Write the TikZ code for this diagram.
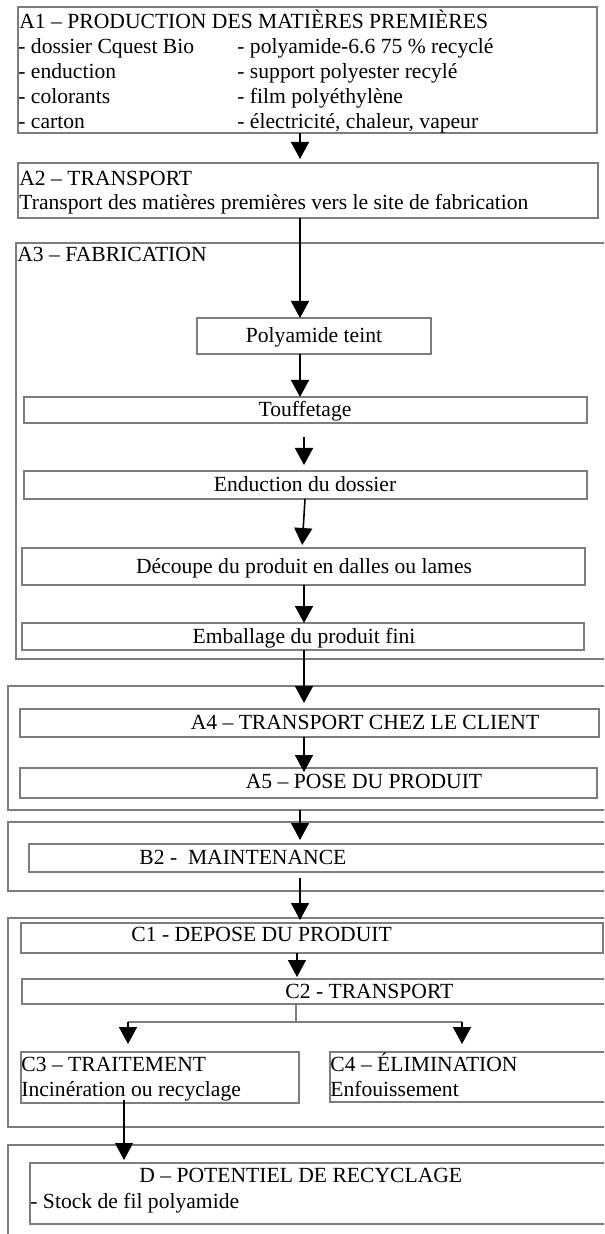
\documentclass[tikz,border=0pt]{standalone}
\usepackage{fontspec}
\setmainfont{Liberation Serif}
\usetikzlibrary{arrows.meta,fit}
\definecolor{grisbord}{RGB}{125,125,125}
\tikzset{>={Triangle[length=8.5pt,width=9pt]}}
\tikzset{cadre/.style={draw=grisbord, line width=0.7pt, inner sep=0pt, outer sep=0pt},
	txt/.style={anchor=west, inner sep=0pt, text height=7.4pt, text depth=2.2pt},
	ctxt/.style={inner sep=0pt, text height=7.4pt, text depth=2.2pt},
	fleche/.style={->, line width=0.8pt, black},
	trait/.style={draw=grisbord, line width=0.6pt}}

\begin{document}
\begin{tikzpicture}[x=0.5pt, y=-0.5pt, font=\fontsize{10.8}{13}\selectfont]
	\useasboundingbox (0,0) rectangle (604,1234);
	\clip (0,0) rectangle (604,1234);
	\coordinate (axe) at (300,0);
	\coordinate (axeb) at (304,0);
	\coordinate (flgauche) at (128,0);
	\coordinate (fldroite) at (462,0);
	\coordinate (flrecyc) at (124,0);
	
	% A1
	\node[cadre, fit={(18,7) (597,133)}] (a1) {};
	\node[txt] (a1titre) at (19,23) {A1 – PRODUCTION DES MATIÈRES PREMIÈRES};
	\node[txt] (a1g1) at (18,48) {- dossier Cquest Bio};
	\node[txt] (a1g2) at (18,73) {- enduction};
	\node[txt] (a1g3) at (18,98) {- colorants};
	\node[txt] (a1g4) at (18,123) {- carton};
	\node[txt] (a1d1) at (237,48) {- polyamide-6.6 75 \% recyclé};
	\node[txt] (a1d2) at (237,73) {- support polyester recylé};
	\node[txt] (a1d3) at (237,98) {- film polyéthylène};
	\node[txt] (a1d4) at (237,123) {- électricité, chaleur, vapeur};
	
	% A2
	\node[cadre, fit={(18,163) (598,218)}] (a2) {};
	\node[txt] (a2titre) at (19,180) {A2 – TRANSPORT};
	\node[txt] (a2texte) at (19,204) {Transport des matières premières vers le site de fabrication};
	
	% A3 - fabrication
	\node[cadre, fit={(16,243) (620,659)}] (a3) {};
	\node[txt] (a3titre) at (17,256) {A3 – FABRICATION};
	\node[cadre, fit={(197,318) (431,354)}] (poly) {};
	\node[ctxt] (polytexte) at (314,337) {Polyamide teint};
	\node[cadre, fit={(24,397) (587,423)}] (touf) {};
	\node[ctxt] (touftexte) at (305,411) {Touffetage};
	\node[cadre, fit={(24,471) (587,499)}] (endu) {};
	\node[ctxt] (endutexte) at (305,486) {Enduction du dossier};
	\node[cadre, fit={(22,548) (585,585)}] (decoupe) {};
	\node[ctxt] (decoupetexte) at (304,568) {Découpe du produit en dalles ou lames};
	\node[cadre, fit={(22,623) (584,650)}] (emb) {};
	\node[ctxt] (embtexte) at (304,638) {Emballage du produit fini};
	
	% A4 - A5
	\node[cadre, fit={(8,686) (620,810)}] (grpa) {};
	\node[cadre, fit={(20,709) (599,737)}] (a4) {};
	\node[ctxt] (a4texte) at (365,724) {A4 – TRANSPORT CHEZ LE CLIENT};
	\node[cadre, fit={(20,768) (597,798)}] (a5) {};
	\node[ctxt] (a5texte) at (364,783) {A5 – POSE DU PRODUIT};
	
	% B2
	\node[cadre, fit={(8,822) (620,891)}] (grpb) {};
	\node[cadre, fit={(29,844) (620,872)}] (b2) {};
	\node[txt] (b2texte) at (139,859) {B2 -\ \ MAINTENANCE};
	
	% C1 - C4
	\node[cadre, fit={(8,918) (620,1127)}] (grpc) {};
	\node[cadre, fit={(21,923) (603,953)}] (c1) {};
	\node[txt] (c1texte) at (131,936) {C1 - DEPOSE DU PRODUIT};
	\node[cadre, fit={(22,979) (620,1004)}] (c2) {};
	\node[txt] (c2texte) at (285,993) {C2 - TRANSPORT};
	\node[cadre, fit={(21,1052) (299,1103)}] (c3) {};
	\node[txt] (c3titre) at (21,1066) {C3 – TRAITEMENT};
	\node[txt] (c3texte) at (21,1091) {Incinération ou recyclage};
	\node[cadre, fit={(330,1052) (620,1102)}] (c4) {};
	\node[txt] (c4titre) at (330,1066) {C4 – ÉLIMINATION};
	\node[txt] (c4texte) at (330,1091) {Enfouissement};
	
	% D
	\node[cadre, fit={(8,1145) (620,1250)}] (grpd) {};
	\node[cadre, fit={(30,1163) (620,1224)}] (d) {};
	\node[txt] (dtitre) at (139,1177) {D – POTENTIEL DE RECYCLAGE};
	\node[txt] (dtexte) at (30,1203) {- Stock de fil polyamide};
	
	% fleches
	\draw[fleche, shorten >=2pt] (a1.south -| axe) -- (a2.north -| axe);
	\draw[fleche] (a2.south -| axe) -- (poly.north -| axe);
	\draw[fleche] (poly.south -| axe) -- (touf.north -| axe);
	\draw[fleche, shorten <=7pt, shorten >=3pt] (touf.south -| axeb) -- (endu.north -| axeb);
	\draw[fleche, shorten >=1.5pt] ([xshift=0.5pt]endu.south -| axeb) -- ([xshift=-1pt]decoupe.north -| axeb);
	\draw[fleche] (decoupe.south -| axeb) -- (emb.north -| axeb);
	\draw[fleche, shorten >=3pt] (emb.south -| axeb) -- (a4.north -| axeb);
	\draw[fleche, shorten >=-2pt] (a4.south -| axeb) -- (a5.north -| axeb);
	\draw[fleche, shorten >=2pt] (grpa.south -| axe) -- (b2.north -| axe);
	\draw[fleche, shorten <=3pt, shorten >=1.5pt] (b2.south -| axe) -- (c1.north -| axe);
	\draw[fleche, shorten >=1pt] ([xshift=-1.5pt]c1.south -| axe) -- ([xshift=-1.5pt]c2.north -| axe);
	\draw[trait] ([xshift=-2pt]c2.south -| axe) -- ++(0,18) coordinate (bif);
	\draw[trait] (bif -| flgauche) -- (bif -| fldroite);
	\draw[fleche, shorten >=4pt] (bif -| flgauche) -- (c3.north -| flgauche);
	\draw[fleche, shorten >=4pt] (bif -| fldroite) -- (c4.north -| fldroite);
	\draw[fleche, shorten <=-1.5pt, shorten >=1.5pt] (c3.south -| flrecyc) -- (d.north -| flrecyc);
\end{tikzpicture}
\end{document}
